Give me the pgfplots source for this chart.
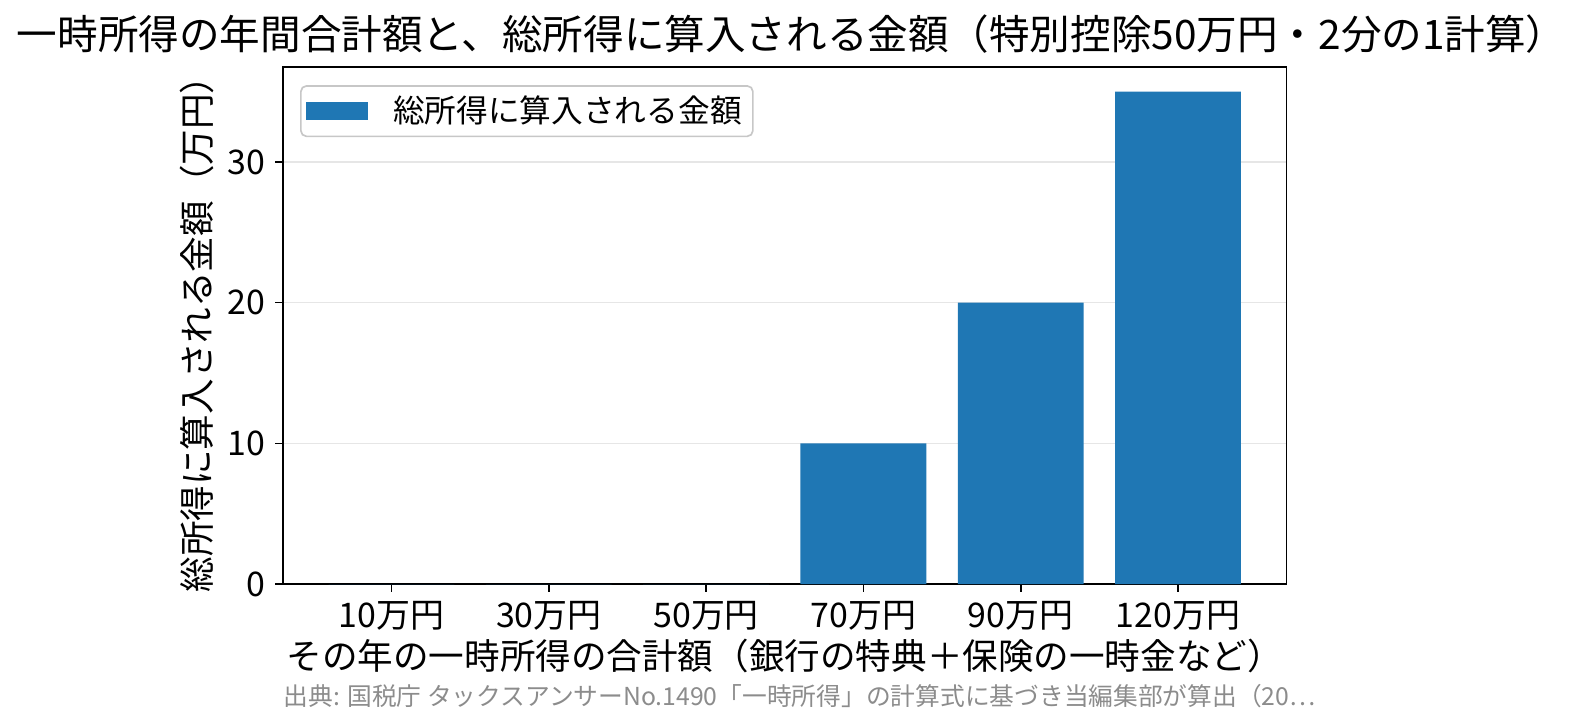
\documentclass[border=0pt]{standalone}
\usepackage{fontspec}
\setmainfont{Noto Sans CJK JP}
\usepackage{pgfplots}
\pgfplotsset{compat=1.18}
\definecolor{barblue}{HTML}{1F77B4}
\definecolor{gridgray}{HTML}{E6E6E6}
\definecolor{notegray}{HTML}{8C8C8C}
\begin{document}
\begin{tikzpicture}
\path[use as bounding box] (-101.8pt,-50.7pt) rectangle (463.7pt,210.1pt);
\begin{axis}[
    at={(0,0)}, anchor=south west,
    scale only axis,
    width=361pt, height=186pt,
    xmin=-0.69, xmax=5.69,
    ymin=0, ymax=36.75,
    xtick={0,1,2,3,4,5},
    xticklabels={10万円,30万円,50万円,70万円,90万円,120万円},
    ytick={0,10,20,30},
    /pgf/number format/assume math mode=true,
    tick label style={font=\fontsize{12.2}{14}\selectfont},
    tick align=outside,
    tick pos=left,
    major tick length=2.8pt,
    tick style={black, line width=0.6pt},
    axis line style={line width=0.6pt},
    ymajorgrids,
    grid style={gridgray, line width=0.5pt},
    xlabel={その年の一時所得の合計額（銀行の特典＋保険の一時金など）},
    ylabel={総所得に算入される金額（万円）},
    label style={font=\fontsize{12.8}{15}\selectfont},
    xlabel style={yshift=4pt},
    ylabel style={yshift=-2pt},
    legend style={at={(0.017,0.965)}, anchor=north west,
        draw=gridgray!70!gray, rounded corners=2pt, line width=0.6pt,
        font=\fontsize{11.4}{13}\selectfont,
        inner xsep=2pt, inner ysep=1.5pt},
    legend image code/.code={\fill[barblue, sharp corners] (0cm,-0.11cm) rectangle (0.78cm,0.11cm);},
    legend cell align=left,
]
\addplot[ybar, bar width=0.8, fill=barblue, draw=none, bar shift=0pt]
    coordinates {(0,0) (1,0) (2,0) (3,10) (4,20) (5,35)};
\addlegendentry{\hspace{7pt}総所得に算入される金額}
\end{axis}
\node[font=\fontsize{14.6}{17}\selectfont] at (183pt,198pt) {一時所得の年間合計額と、総所得に算入される金額（特別控除50万円・2分の1計算）};
\node[font=\fontsize{8.9}{11}\selectfont, text=notegray, anchor=west, inner sep=0pt] at (0pt,-40.3pt) {出典: 国税庁 タックスアンサーNo.1490「一時所得」の計算式に基づき当編集部が算出（20…};
\end{tikzpicture}
\end{document}
